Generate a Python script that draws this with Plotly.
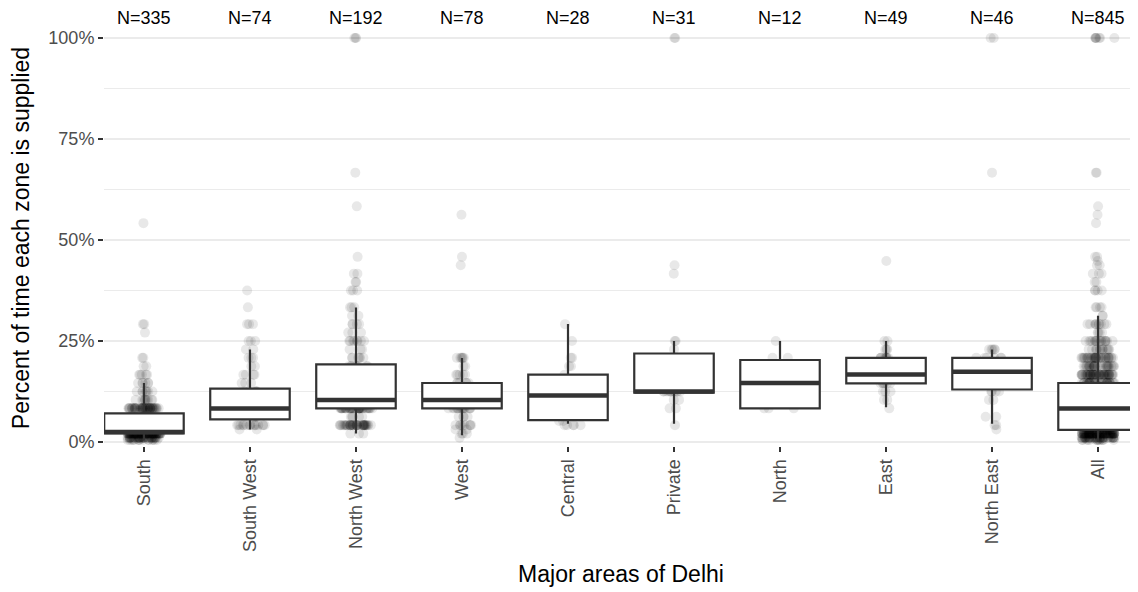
import numpy as np
import plotly.graph_objects as go

# ---------------- data ----------------
categories = ["South", "South West", "North West", "West", "Central",
              "Private", "North", "East", "North East", "All"]
n_labels = ["N=335", "N=74", "N=192", "N=78", "N=28",
            "N=31", "N=12", "N=49", "N=46", "N=845"]

# box statistics (fraction of time supplied)
q1 = [0.021, 0.056, 0.083, 0.083, 0.054, 0.122, 0.083, 0.145, 0.130, 0.030]
median = [0.025, 0.083, 0.104, 0.104, 0.115, 0.125, 0.146, 0.167, 0.174, 0.083]
q3 = [0.071, 0.132, 0.192, 0.146, 0.167, 0.219, 0.203, 0.208, 0.208, 0.146]
lower_whisker = [0.004, 0.031, 0.021, 0.017, 0.045, 0.045, 0.083, 0.086, 0.045, 0.0]
upper_whisker = [0.146, 0.229, 0.333, 0.208, 0.292, 0.250, 0.250, 0.250, 0.229, 0.3125]

# observed points: distinct values and how many sit at each value
south_vals = [0.005, 0.0104, 0.0208, 0.0312, 0.0417, 0.0625, 0.0833, 0.1042, 0.125,
              0.1458, 0.1667, 0.1875, 0.2083, 0.2708, 0.2917, 0.5417]
south_counts = [15, 40, 80, 20, 40, 15, 50, 10, 8, 6, 5, 2, 2, 1, 2, 1]

southwest_vals = [0.0312, 0.0417, 0.0625, 0.0833, 0.1042, 0.125, 0.1458, 0.1667,
                  0.1875, 0.2083, 0.2292, 0.25, 0.2917, 0.3333, 0.375]
southwest_counts = [2, 15, 5, 15, 6, 6, 3, 4, 2, 3, 2, 3, 3, 1, 1]

northwest_vals = [0.0208, 0.0417, 0.0625, 0.0833, 0.1042, 0.125, 0.1458, 0.1667,
                  0.1875, 0.2083, 0.2292, 0.25, 0.2708, 0.2917, 0.3125, 0.3333,
                  0.375, 0.3958, 0.4167, 0.4583, 0.5833, 0.6667, 1.0]
northwest_counts = [3, 40, 5, 40, 20, 15, 10, 10, 8, 6, 3, 8, 3, 4, 2, 3,
                    3, 2, 2, 1, 1, 1, 3]

west_vals = [0.0104, 0.0208, 0.0312, 0.0417, 0.0625, 0.0833, 0.1042, 0.125,
             0.1458, 0.1667, 0.1875, 0.2083, 0.4375, 0.4583, 0.5625]
west_counts = [1, 3, 2, 8, 4, 15, 15, 8, 6, 5, 2, 6, 1, 1, 1]

central_vals = [0.0417, 0.0521, 0.0833, 0.1042, 0.125, 0.1458, 0.1667, 0.1875,
                0.2083, 0.25, 0.2917]
central_counts = [5, 2, 4, 4, 4, 2, 1, 2, 2, 1, 1]

private_vals = [0.0417, 0.0833, 0.1042, 0.125, 0.1458, 0.1667, 0.1875, 0.2083,
                0.2292, 0.25, 0.4167, 0.4375, 1.0]
private_counts = [1, 2, 2, 12, 2, 2, 1, 2, 1, 2, 1, 1, 2]

north_vals = [0.0833, 0.1042, 0.125, 0.1458, 0.1667, 0.1875, 0.2083, 0.25]
north_counts = [3, 1, 1, 2, 1, 1, 2, 1]

east_vals = [0.0833, 0.1042, 0.125, 0.1458, 0.1667, 0.1875, 0.2083, 0.2292,
             0.25, 0.4479]
east_counts = [1, 2, 3, 6, 15, 8, 8, 3, 2, 1]

northeast_vals = [0.0312, 0.0417, 0.0625, 0.1042, 0.125, 0.1458, 0.1667, 0.1875,
                  0.2083, 0.2292, 0.6667, 1.0]
northeast_counts = [1, 2, 2, 2, 4, 4, 10, 6, 6, 5, 1, 2]

zone_points = [
    (south_vals, south_counts),
    (southwest_vals, southwest_counts),
    (northwest_vals, northwest_counts),
    (west_vals, west_counts),
    (central_vals, central_counts),
    (private_vals, private_counts),
    (north_vals, north_counts),
    (east_vals, east_counts),
    (northeast_vals, northeast_counts),
]

# ---------------- build ----------------
pos = list(range(len(categories)))
pt_x, pt_y = [], []
all_y = []
for i, (vals, cnts) in enumerate(zone_points):
    ys = np.repeat(vals, cnts)
    pt_x += [i] * len(ys)
    pt_y += list(ys)
    all_y += list(ys)
pt_x += [len(categories) - 1] * len(all_y)   # "All" pools every zone
pt_y += all_y

BOX_W = 0.75
LINE = "#333333"
TXT = "Liberation Sans, Arial, Helvetica, sans-serif"

fig = go.Figure()

# jittered points (box itself hidden)
fig.add_trace(go.Box(
    x=pt_x, y=pt_y, boxpoints="all", jitter=0.42, pointpos=0, width=BOX_W,
    marker=dict(color="rgba(0,0,0,0.09)", size=10, line=dict(width=0)),
    line=dict(width=0, color="rgba(0,0,0,0)"), fillcolor="rgba(0,0,0,0)",
    whiskerwidth=0, hoverinfo="skip", showlegend=False,
))

# boxes from precomputed statistics
fig.add_trace(go.Box(
    x=pos, q1=q1, median=median, q3=q3,
    lowerfence=lower_whisker, upperfence=upper_whisker,
    boxpoints=False, width=BOX_W, whiskerwidth=0,
    fillcolor="white", line=dict(color=LINE, width=2.2),
    showlegend=False,
))

# thicker median bars
mx, my = [], []
for i, m in zip(pos, median):
    mx += [i - BOX_W / 2, i + BOX_W / 2, None]
    my += [m, m, None]
fig.add_trace(go.Scatter(x=mx, y=my, mode="lines",
                         line=dict(color=LINE, width=4.5),
                         hoverinfo="skip", showlegend=False))

# N= labels above each column
for i, lab in zip(pos, n_labels):
    fig.add_annotation(x=i, y=1, xref="x", yref="paper", yanchor="middle",
                       yshift=12, text=lab, showarrow=False,
                       font=dict(size=18, color="black", family=TXT))

# the page body adds an 8px offset, so the figure is 8px smaller each way
fig.update_layout(
    width=1130, height=584,
    margin=dict(l=96, r=0, t=22, b=146, autoexpand=False),
    paper_bgcolor="white", plot_bgcolor="white",
    boxmode="overlay",
    font=dict(family=TXT),
    xaxis=dict(
        range=[-0.377, 9.377], tickmode="array", tickvals=pos, ticktext=categories,
        tickangle=-90, showgrid=False, zeroline=False, showline=False,
        ticks="outside", ticklen=5, tickwidth=1.5, tickcolor=LINE,
        tickfont=dict(size=18, color="#4d4d4d", family=TXT),
        title=dict(text="Major areas of Delhi", standoff=14,
                   font=dict(size=23, color="black", family=TXT)),
        automargin=False,
    ),
    yaxis=dict(
        range=[-0.0099, 1.0198], tick0=0, dtick=0.25, tickformat=".0%",
        showgrid=True, gridcolor="#ebebeb", gridwidth=1.6,
        minor=dict(dtick=0.125, tick0=0, showgrid=True, gridcolor="#ebebeb", gridwidth=0.8),
        zeroline=False, showline=False,
        ticks="outside", ticklen=5, tickwidth=1.5, tickcolor=LINE,
        tickfont=dict(size=18, color="#4d4d4d", family=TXT),
        title=dict(text="Percent of time each zone is supplied", standoff=16,
                   font=dict(size=23, color="black", family=TXT)),
        automargin=False,
    ),
)

fig.write_html("out.html")
